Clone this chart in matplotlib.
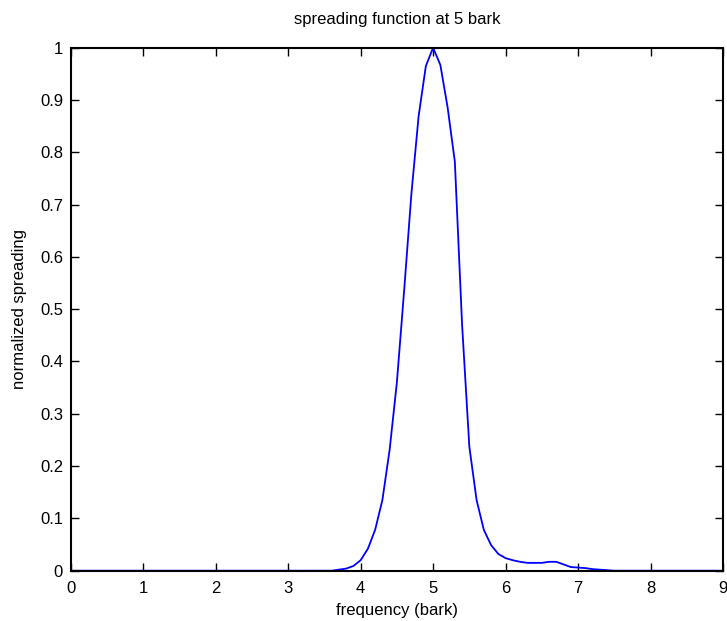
import numpy as np
import matplotlib
matplotlib.use("Agg")
import matplotlib.pyplot as plt
from matplotlib.ticker import FuncFormatter

plt.rcParams["font.family"] = ["Liberation Sans", "DejaVu Sans"]
plt.rcParams["font.size"] = 12

# frequency in bark (0.1 bark steps) and normalized spreading values
bark = [0.0, 3.5, 3.6, 3.7, 3.8, 3.9, 4.0, 4.1, 4.2, 4.3, 4.4, 4.5, 4.6, 4.7, 4.8, 4.9,
        5.0, 5.1, 5.2, 5.3, 5.4, 5.5, 5.6, 5.7, 5.8, 5.9, 6.0, 6.1, 6.2, 6.3, 6.4,
        6.5, 6.6, 6.7, 6.8, 6.9, 7.0, 7.1, 7.2, 7.3, 7.4, 7.5, 9.0]
spreading = [0.0, 0.0, 0.0, 0.002, 0.004, 0.009, 0.02, 0.042, 0.078, 0.135, 0.231, 0.36,
             0.535, 0.72, 0.869, 0.965,
             1.0, 0.967, 0.886, 0.782, 0.47, 0.237, 0.135, 0.078, 0.049, 0.032, 0.024,
             0.02, 0.017, 0.015, 0.015, 0.015, 0.017, 0.017, 0.012, 0.007, 0.006,
             0.005, 0.003, 0.002, 0.001, 0.0, 0.0]

x_ticks = list(range(0, 10))
y_ticks = [0, 0.1, 0.2, 0.3, 0.4, 0.5, 0.6, 0.7, 0.8, 0.9, 1]

fig = plt.figure(figsize=(7.27, 6.21), dpi=100)
ax = fig.add_axes([0.0973, 0.081, 0.8972, 0.8422])

ax.plot(bark, spreading, color="#0000ff", linewidth=1.3)

ax.set_xlim(0, 9)
ax.set_ylim(0, 1)
ax.set_xticks(x_ticks)
ax.set_yticks(y_ticks)
ax.yaxis.set_major_formatter(FuncFormatter(lambda v, p: f"{v:g}"))

ax.tick_params(direction="in", length=6, width=1, top=True, right=True,
               labelsize=12, colors="black")
ax.tick_params(axis="x", pad=7.5)
ax.tick_params(axis="y", pad=5.5)
for s in ax.spines.values():
    s.set_linewidth(1.5)

ax.set_title("spreading function at 5 bark", fontsize=12, pad=17)
ax.set_xlabel("frequency (bark)", fontsize=12, labelpad=5)
ax.set_ylabel("normalized spreading", fontsize=12, labelpad=9)

fig.savefig("out.png", dpi=100)
